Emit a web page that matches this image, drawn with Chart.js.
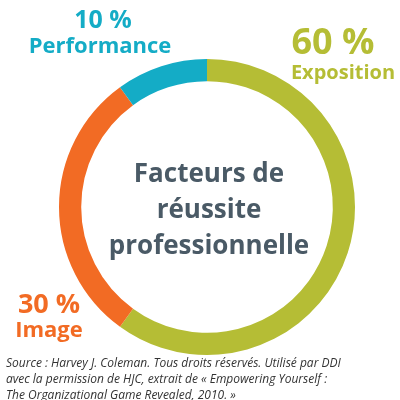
<!DOCTYPE html>
<html><head><meta charset="utf-8">
<script src="https://cdn.jsdelivr.net/npm/chart.js@4"></script>
<style>html,body{margin:0;padding:0;background:#fff}#wrap{width:400px;height:400px}</style>
</head><body><div id="wrap"><canvas id="myChart"></canvas></div>
<script>
const categories = ['Exposition', 'Image', 'Performance'];
const values = [60, 30, 10];
const colors = ['#b5bd35', '#f26b24', '#14acc6'];
const centerLines = ['Facteurs de', 'réussite', 'professionnelle'];
const sourceLines = [
  'Source : Harvey J. Coleman. Tous droits réservés. Utilisé par DDI',
  'avec la permission de HJC, extrait de « Empowering Yourself :',
  'The Organizational Game Revealed, 2010. »'
];

const textPlugin = {
  id: 'texts',
  afterDraw(chart) {
    const ctx = chart.ctx;
    ctx.save();
    ctx.textBaseline = 'alphabetic';
    // center title
    ctx.fillStyle = '#4a5a66';
    ctx.font = 'bold 26px "Open Sans", sans-serif';
    ctx.textAlign = 'center';
    centerLines.forEach((l, i) => ctx.fillText(l, 209, 182 + i * 36));
    // slice labels
    ctx.textAlign = 'center';
    ctx.fillStyle = colors[0];
    ctx.font = 'bold 36px "Open Sans", sans-serif';
    ctx.fillText(values[0] + ' %', 333, 54);
    ctx.font = 'bold 20px "Open Sans", sans-serif';
    ctx.fillText(categories[0], 343, 79);
    ctx.fillStyle = colors[2];
    ctx.font = 'bold 25px "Open Sans", sans-serif';
    ctx.fillText(values[2] + ' %', 103, 28);
    ctx.font = 'bold 22px "Open Sans", sans-serif';
    ctx.fillText(categories[2], 100, 53);
    ctx.fillStyle = colors[1];
    ctx.font = 'bold 27px "Open Sans", sans-serif';
    ctx.fillText(values[1] + ' %', 49, 313);
    ctx.font = 'bold 22px "Open Sans", sans-serif';
    ctx.fillText(categories[1], 49, 337);
    // source
    ctx.fillStyle = '#333';
    ctx.textAlign = 'left';
    ctx.font = 'italic 12px "Open Sans", sans-serif';
    sourceLines.forEach((l, i) => ctx.fillText(l, 6, 367 + i * 16));
    ctx.restore();
  }
};

new Chart(document.getElementById('myChart').getContext('2d'), {
  type: 'doughnut',
  data: {
    labels: categories,
    datasets: [{ data: values, backgroundColor: colors, borderWidth: 0 }]
  },
  options: {
    responsive: true,
    maintainAspectRatio: false,
    animation: false,
    cutout: '85%',
    layout: { padding: { left: 59, right: 45, top: 59, bottom: 45 } },
    plugins: { legend: { display: false }, tooltip: { enabled: false } }
  },
  plugins: [textPlugin]
});
</script>
</body></html>
